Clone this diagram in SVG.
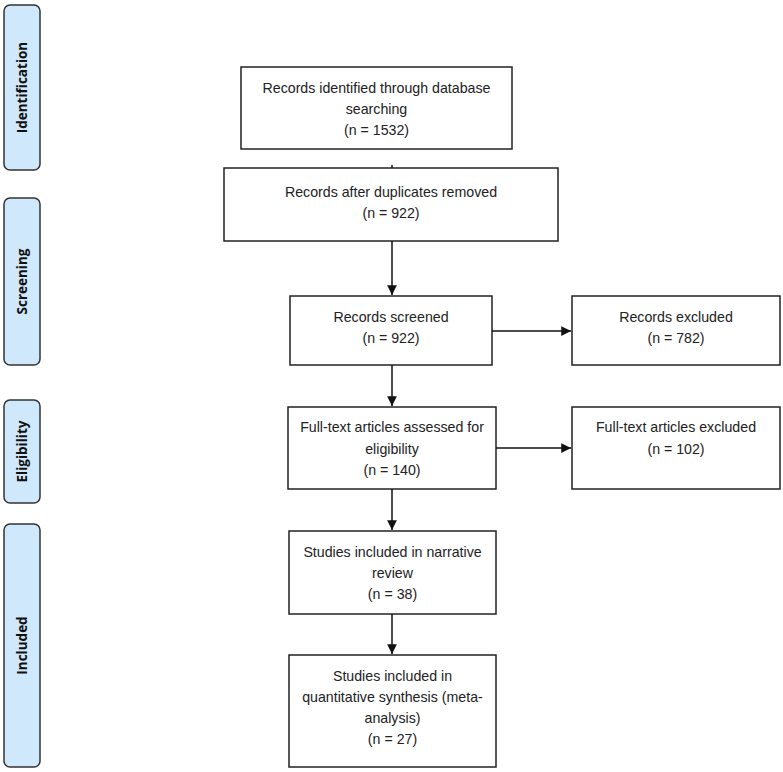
<svg xmlns="http://www.w3.org/2000/svg" width="783" height="772" viewBox="0 0 783 772">
<style>
.box{fill:#fff;stroke:#222;stroke-width:1.5}
.tab{fill:#cfe8fb;stroke:#333;stroke-width:1.5}
.t{font-family:"Liberation Sans",Arial,sans-serif;font-size:14.2px;fill:#222;text-anchor:middle}
.tl{font-family:"Open Sans","Liberation Sans",sans-serif;font-size:13.5px;font-weight:bold;fill:#111;text-anchor:middle}
.c{stroke:#111;stroke-width:1.5;fill:none}
</style>
<defs>
<marker id="ah" viewBox="0 0 10 10" refX="10" refY="5" markerWidth="6.5" markerHeight="6.5" orient="auto" markerUnits="strokeWidth">
<path d="M0,0L10,5L0,10z" fill="#111"/>
</marker>
</defs>
<rect width="783" height="772" fill="#fff"/>
<g id="tab-identification"><rect class="tab" x="4" y="5" width="36" height="165" rx="6"/><text class="tl" transform="translate(27,87.5) rotate(-90)">Identification</text></g>
<g id="tab-screening"><rect class="tab" x="4" y="198" width="36" height="167" rx="6"/><text class="tl" transform="translate(27,281.5) rotate(-90)">Screening</text></g>
<g id="tab-eligibility"><rect class="tab" x="4" y="400" width="36" height="103" rx="6"/><text class="tl" transform="translate(27,451.5) rotate(-90)">Eligibility</text></g>
<g id="tab-included"><rect class="tab" x="4" y="524" width="36" height="243" rx="6"/><text class="tl" transform="translate(27,645.5) rotate(-90)">Included</text></g>

<g id="identified"><rect class="box" x="241" y="67" width="271" height="82"/>
<text class="t" x="376.5" y="93">Records identified through database</text>
<text class="t" x="376.5" y="114">searching</text>
<text class="t" x="376.5" y="135">(n = 1532)</text></g>
<g id="duplicates"><rect class="box" x="224" y="168" width="334" height="73"/>
<text class="t" x="391" y="197">Records after duplicates removed</text>
<text class="t" x="391" y="218">(n = 922)</text></g>
<g id="screened"><rect class="box" x="290" y="296" width="202" height="69"/>
<text class="t" x="391" y="322">Records screened</text>
<text class="t" x="391" y="343">(n = 922)</text></g>
<g id="excluded"><rect class="box" x="572" y="296" width="208" height="69"/>
<text class="t" x="676" y="322">Records excluded</text>
<text class="t" x="676" y="343">(n = 782)</text></g>
<g id="fulltext"><rect class="box" x="288" y="407" width="208" height="82"/>
<text class="t" x="392" y="432">Full-text articles assessed for</text>
<text class="t" x="392" y="454">eligibility</text>
<text class="t" x="392" y="475">(n = 140)</text></g>
<g id="fulltext-excluded"><rect class="box" x="572" y="407" width="208" height="82"/>
<text class="t" x="676" y="432">Full-text articles excluded</text>
<text class="t" x="676" y="454">(n = 102)</text></g>
<g id="narrative"><rect class="box" x="289" y="531" width="207" height="83"/>
<text class="t" x="392.5" y="557">Studies included in narrative</text>
<text class="t" x="392.5" y="578">review</text>
<text class="t" x="392.5" y="599">(n = 38)</text></g>
<g id="quantitative"><rect class="box" x="289" y="655" width="207" height="112"/>
<text class="t" x="392.5" y="681">Studies included in</text>
<text class="t" x="392.5" y="702">quantitative synthesis (meta-</text>
<text class="t" x="392.5" y="723">analysis)</text>
<text class="t" x="392.5" y="744">(n = 27)</text></g>

<g id="connectors">
<line class="c" x1="392" y1="165" x2="392" y2="168"/>
<line class="c" x1="392" y1="241" x2="392" y2="295" marker-end="url(#ah)"/>
<line class="c" x1="492" y1="331" x2="571" y2="331" marker-end="url(#ah)"/>
<line class="c" x1="392" y1="365" x2="392" y2="406" marker-end="url(#ah)"/>
<line class="c" x1="496" y1="448" x2="571" y2="448" marker-end="url(#ah)"/>
<line class="c" x1="392" y1="489" x2="392" y2="530" marker-end="url(#ah)"/>
<line class="c" x1="392" y1="614" x2="392" y2="654" marker-end="url(#ah)"/>
</g>
</svg>
